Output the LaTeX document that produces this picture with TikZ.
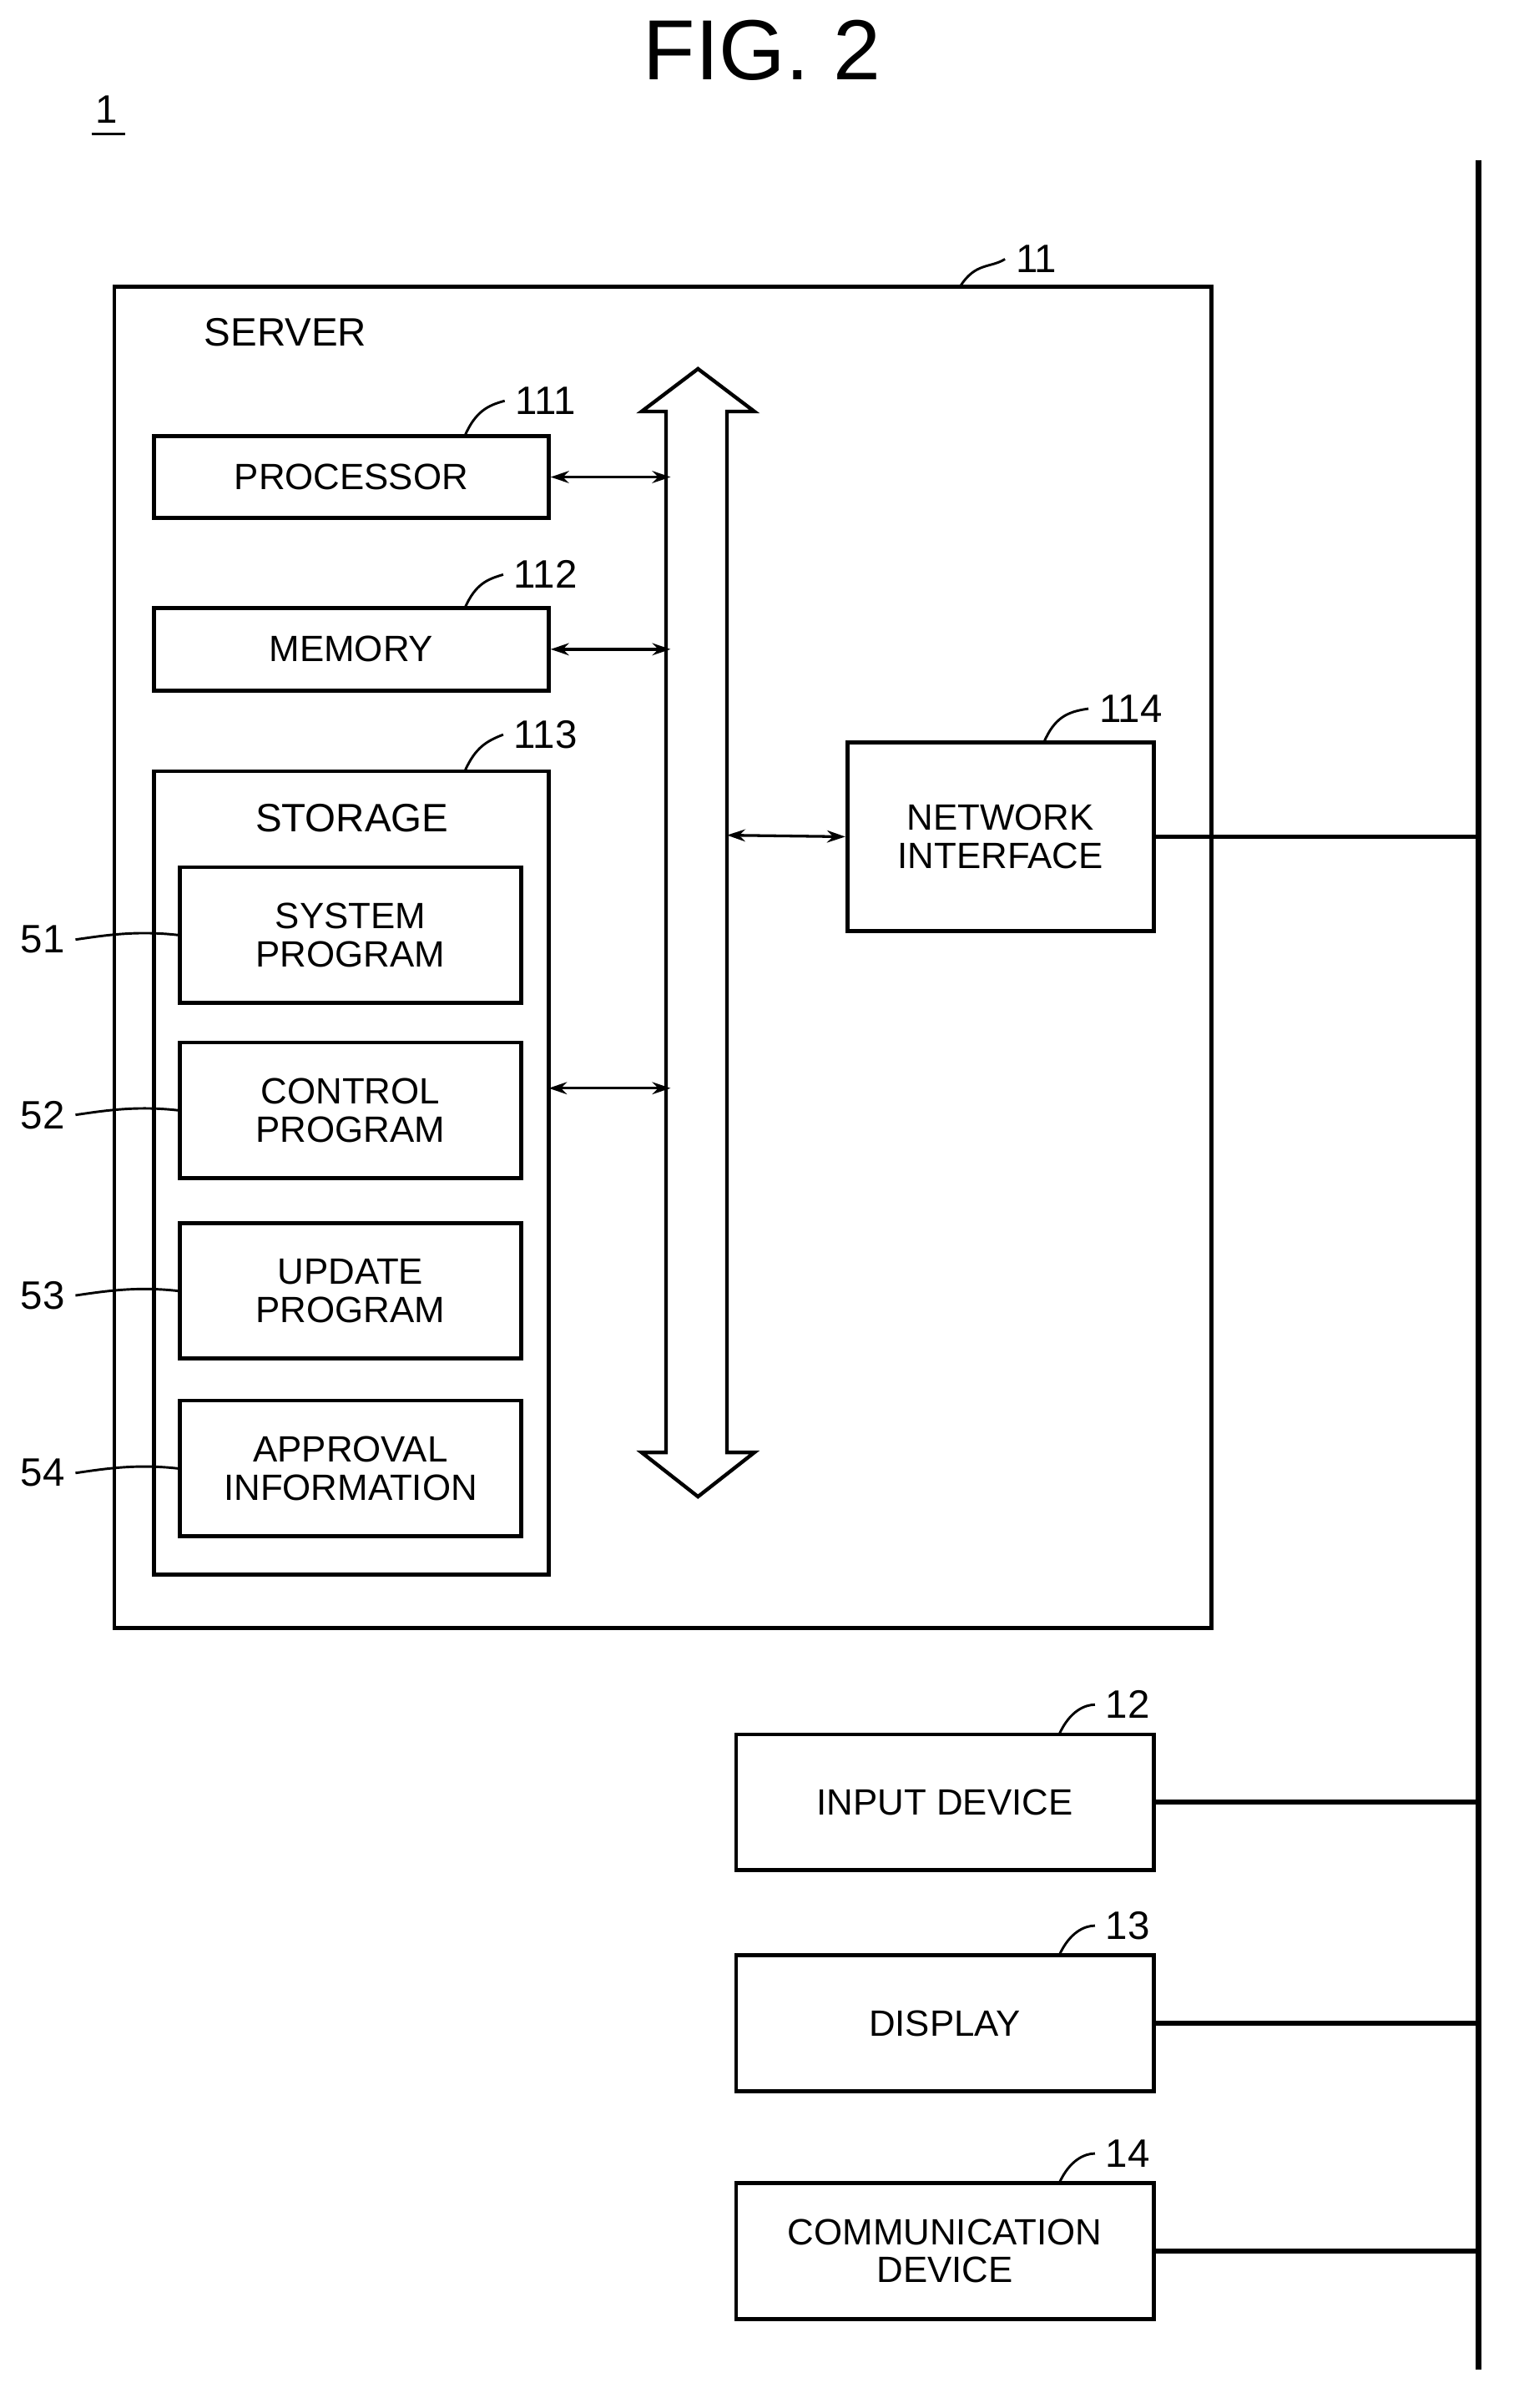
\documentclass[tikz,border=0pt]{standalone}
\usepackage{fontspec}
\setmainfont{Liberation Sans}
\usetikzlibrary{arrows.meta}
\begin{document}
\begin{tikzpicture}[x=0.5pt,y=-0.5pt,
  box/.style={draw,line width=1.3pt,align=center,font=\fontsize{12}{12.5}\selectfont,inner sep=0},
  lbl/.style={font=\fontsize{13}{14}\selectfont},
  dar/.style={{Stealth[length=6pt,width=4pt]}-{Stealth[length=6pt,width=4pt]},line width=0.9pt},
  wire/.style={line width=1.6pt},
  lead/.style={line width=0.8pt}]
\useasboundingbox (0,0) rectangle (993,1580);
\node[font=\fontsize{28}{30}\selectfont] (title) at (500,33) {FIG. 2};
\node[lbl] (one) at (70,72) {1};
\draw[line width=0.9pt] (60,88) -- (82,88);
\coordinate (bt) at (970,105); \coordinate (bb) at (970,1555);
\draw[line width=2pt] (bt) -- (bb);
% server
\node[box,minimum width=360pt,minimum height=440pt] (srv) at (435,628) {};
\node[lbl,anchor=west] (srvl) at (127,218) {SERVER};
\node[lbl] (n11) at (680,170) {11};
\draw[lead] (630,188) .. controls (640,172) and (650,176) .. (n11.west);
% bus
\node[draw=none,inner sep=0] (bus) at (457,612) {};
\draw[line width=1.2pt,fill=white] (437,270) -- (421,270) -- (458,242) -- (495,270) -- (477,270) -- (477,953) -- (495,953) -- (458,982) -- (421,953) -- (437,953) -- cycle;
\coordinate (b313) at (440,313); \coordinate (b426) at (440,426);
\coordinate (b714) at (440,714); \coordinate (b548) at (477,548);
% processor
\node[box,minimum width=129.5pt,minimum height=27pt] (proc) at (230.5,313) {PROCESSOR};
\node[lbl] (n111) at (358,263) {111};
\draw[lead] (305,286) .. controls (312,270) and (320,266) .. (n111.west);
\draw[dar] (proc.east) -- (b313);
% memory
\node[box,minimum width=129.5pt,minimum height=27pt] (mem) at (230.5,426) {MEMORY};
\node[lbl] (n112) at (358,377) {112};
\draw[lead] (305,399) .. controls (312,383) and (320,380) .. (n112.west);
\draw[dar] (mem.east) -- (b426);
% storage
\node[box,minimum width=129.5pt,minimum height=263.5pt] (sto) at (230.5,769.5) {};
\node[lbl] (stol) at (231,537) {STORAGE};
\node[lbl] (n113) at (358,482) {113};
\draw[lead] (305,506) .. controls (312,490) and (320,486) .. (n113.west);
\draw[dar] (360,714) -- (b714);
\foreach \nm/\y/\txt/\num in {sp/613.5/{SYSTEM\\PROGRAM}/51, cp/728.5/{CONTROL\\PROGRAM}/52, up/847/{UPDATE\\PROGRAM}/53, ap/963.5/{APPROVAL\\INFORMATION}/54}{
  \node[box,minimum width=112pt,minimum height=44.5pt] (\nm) at (230,\y) {\txt};
  \node[lbl] (r\num) at (28,\y+3) {\num};
  \draw[lead] (r\num.east) .. controls (70,\y) and (90,\y-3) .. (\nm.west);
}
% network interface
\node[box,minimum width=100.5pt,minimum height=62pt] (ni) at (656.5,549) {NETWORK\\INTERFACE};
\node[lbl] (n114) at (742,465) {114};
\draw[lead] (685,487) .. controls (692,471) and (700,467) .. (n114.west);
\draw[dar] (b548) -- (ni.west);
\coordinate (j0) at (970,549);
\draw[wire] (ni.east) -- (j0);
% devices
\foreach \nm/\y/\txt/\num in {inp/1182.5/{INPUT DEVICE}/12, dsp/1327.5/{DISPLAY}/13, com/1477/{COMMUNICATION\\DEVICE}/14}{
  \node[box,minimum width=137pt,minimum height=44.5pt] (\nm) at (620,\y) {\txt};
  \node[lbl] (d\num) at (740,\y-64) {\num};
  \draw[lead] (695,\y-44.5) .. controls (702,\y-60) and (712,\y-64) .. (d\num.west);
  \coordinate (j\num) at (970,\y);
  \draw[wire] (\nm.east) -- (j\num);
}
\end{tikzpicture}
\end{document}
